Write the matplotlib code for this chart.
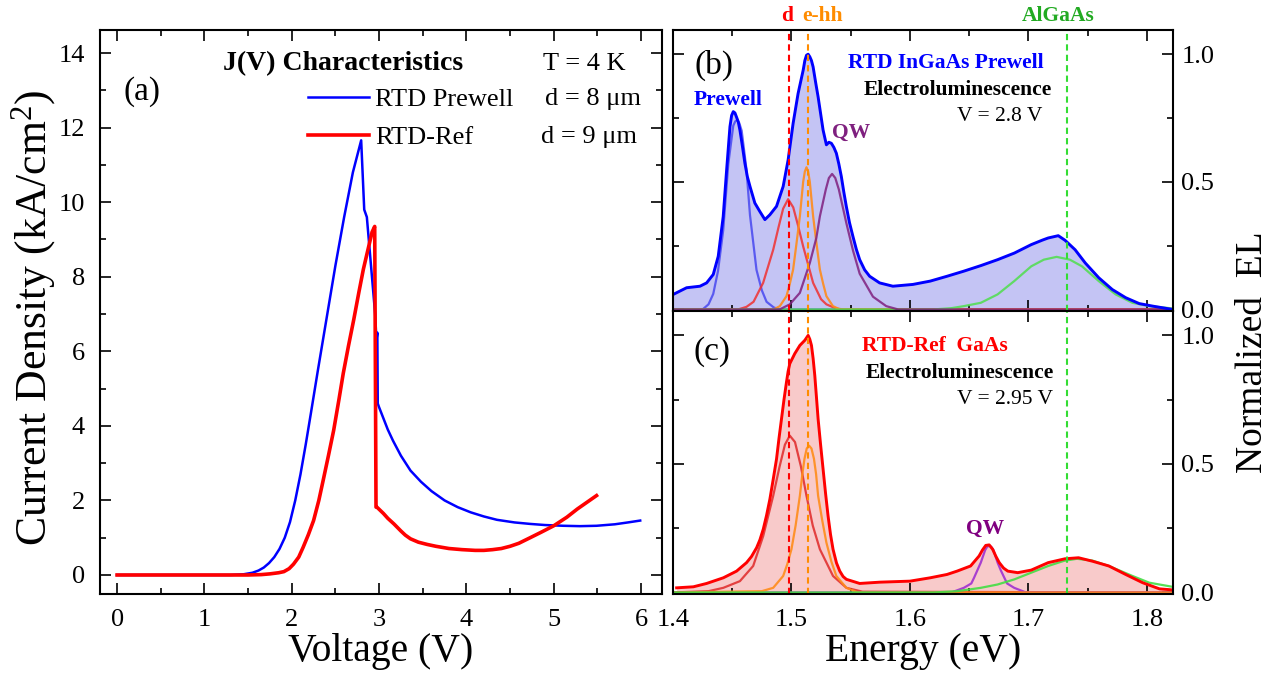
import matplotlib
matplotlib.use('Agg')
import matplotlib.pyplot as plt
from matplotlib.ticker import MultipleLocator

plt.rcParams['font.family'] = ['Liberation Serif', 'DejaVu Serif']
plt.rcParams['mathtext.fontset'] = 'custom'
plt.rcParams['mathtext.rm'] = 'Liberation Serif'

# (a) J(V) characteristics
v_prewell = [0, 0.5, 1.0, 1.30, 1.45, 1.55, 1.62, 1.68, 1.74, 1.80, 1.86, 1.92, 1.98, 2.04,
             2.10, 2.16, 2.22, 2.30, 2.40, 2.50, 2.60, 2.70, 2.795,
             2.83, 2.86, 2.955, 2.97, 2.98, 2.985, 3.0, 3.05, 3.1, 3.16, 3.25, 3.36, 3.48,
             3.6, 3.75, 3.9, 4.05, 4.2, 4.35, 4.55, 4.73, 4.9, 5.11, 5.3, 5.49, 5.7, 5.85,
             5.99]
j_prewell = [0, 0, 0, 0.0, 0.02, 0.06, 0.12, 0.2, 0.32, 0.48, 0.70, 1.0, 1.42, 2.0,
             2.7, 3.5, 4.35, 5.5, 6.9, 8.3, 9.6, 10.8, 11.66,
             9.8, 9.6, 7.0, 6.3, 6.5, 4.6, 4.5, 4.2, 3.9, 3.6, 3.2, 2.8, 2.5,
             2.25, 2.0, 1.82, 1.68, 1.57, 1.48, 1.41, 1.37, 1.34, 1.32, 1.31, 1.32, 1.36, 1.41,
             1.46]
v_ref = [0, 0.5, 1.0, 1.5, 1.65, 1.75, 1.85, 1.91, 1.97, 2.02, 2.08, 2.13, 2.19, 2.25, 2.31,
         2.36, 2.42, 2.48, 2.54, 2.59, 2.65, 2.71, 2.77, 2.82, 2.87, 2.92, 2.95,
         2.965, 2.975, 3.05, 3.1, 3.17, 3.25, 3.3, 3.36, 3.45, 3.55, 3.65, 3.8, 3.95, 4.1,
         4.2, 4.3, 4.4, 4.5, 4.6, 4.73, 4.85, 5.0, 5.15, 5.27, 5.38, 5.49]
j_ref = [0, 0, 0, 0, 0.01, 0.03, 0.06, 0.09, 0.17, 0.29, 0.48, 0.74, 1.08, 1.46, 2.0,
         2.54, 3.2, 3.88, 4.7, 5.41, 6.15, 6.85, 7.6, 8.2, 8.7, 9.2, 9.35,
         1.82, 1.82, 1.65, 1.52, 1.37, 1.18, 1.07, 0.97, 0.88, 0.82, 0.77, 0.71, 0.68, 0.66,
         0.66, 0.68, 0.71, 0.77, 0.85, 1.0, 1.14, 1.32, 1.55, 1.77, 1.95, 2.13]

# (b) RTD InGaAs prewell EL spectrum, V = 2.8 V
b_e = [1.4003, 1.4115, 1.4228, 1.4284, 1.434, 1.4382, 1.4424, 1.4453, 1.4481, 1.4495,
       1.4509, 1.4523, 1.4537, 1.4551, 1.4565, 1.4586, 1.4607, 1.4628, 1.465, 1.4691,
       1.4733, 1.4776, 1.4818, 1.4874, 1.493, 1.4972, 1.5014, 1.5056, 1.5099, 1.5113,
       1.5127, 1.5141, 1.5155, 1.5169, 1.5183, 1.5204, 1.5225, 1.5267, 1.5295, 1.5316,
       1.5337, 1.5358, 1.5379, 1.54, 1.5421, 1.5442, 1.5463, 1.549, 1.5519, 1.5548,
       1.5576, 1.5618, 1.566, 1.5744, 1.5856, 1.6025, 1.6171, 1.6313, 1.6455, 1.66,
       1.674, 1.6882, 1.7024, 1.712, 1.7167, 1.7252, 1.7309, 1.7394, 1.748, 1.7594,
       1.7708, 1.7821, 1.7935, 1.8049, 1.8216]
b_i = [0.059, 0.085, 0.091, 0.104, 0.137, 0.208, 0.364, 0.547, 0.716, 0.76,
       0.775, 0.77, 0.753, 0.735, 0.703, 0.64, 0.573, 0.52, 0.482, 0.417,
       0.384, 0.352, 0.371, 0.404, 0.482, 0.586, 0.729, 0.846, 0.9375, 0.975,
       0.996, 1.0, 0.990, 0.975, 0.950, 0.89, 0.833, 0.703, 0.645, 0.655,
       0.651, 0.635, 0.612, 0.57, 0.521, 0.46, 0.404, 0.34, 0.286, 0.235,
       0.195, 0.155, 0.130, 0.104, 0.091, 0.098, 0.111, 0.13, 0.150, 0.172,
       0.195, 0.221, 0.254, 0.272, 0.280, 0.289, 0.271, 0.234, 0.182, 0.124,
       0.078, 0.046, 0.023, 0.013, 0.0]

# fitted components of (b)
pw_e = [1.40, 1.425, 1.430, 1.434, 1.438, 1.4424, 1.4467, 1.4509, 1.4526, 1.4543, 1.456,
        1.458, 1.462, 1.465, 1.4705, 1.475, 1.479, 1.485, 1.490, 1.822]
pw_i = [0, 0, 0.02, 0.061, 0.15, 0.31, 0.57, 0.72, 0.737, 0.742, 0.73,
        0.70, 0.55, 0.37, 0.155, 0.075, 0.03, 0.008, 0, 0]
bd_e = [1.40, 1.455, 1.462, 1.468, 1.4761, 1.4846, 1.489, 1.493, 1.4972, 1.5015, 1.5055,
        1.5099, 1.5183, 1.525, 1.5295, 1.538, 1.545, 1.822]
bd_i = [0, 0, 0.01, 0.03, 0.104, 0.234, 0.32, 0.395, 0.432, 0.40, 0.33,
        0.247, 0.104, 0.04, 0.02, 0.003, 0, 0]
beh_e = [1.40, 1.485, 1.4902, 1.4958, 1.4986, 1.5014, 1.5043, 1.5071, 1.5099, 1.5113,
         1.5127, 1.5141, 1.5155, 1.5183, 1.5211, 1.524, 1.5268, 1.5295, 1.535, 1.541, 1.822]
beh_i = [0, 0, 0.013, 0.052, 0.10, 0.156, 0.26, 0.365, 0.50, 0.54,
         0.557, 0.54, 0.50, 0.365, 0.26, 0.156, 0.10, 0.052, 0.013, 0, 0]
bqw_e = [1.40, 1.49, 1.4986, 1.5071, 1.5155, 1.521, 1.524, 1.529, 1.5316, 1.5343, 1.537,
         1.540, 1.5463, 1.552, 1.5576, 1.5688, 1.58, 1.59, 1.822]
bqw_i = [0, 0, 0.02, 0.065, 0.182, 0.28, 0.365, 0.47, 0.515, 0.531, 0.515,
         0.47, 0.339, 0.23, 0.14, 0.05, 0.013, 0, 0]
balg_e = [1.40, 1.62, 1.635, 1.6455, 1.6598, 1.674, 1.688, 1.7024, 1.713, 1.7238, 1.735,
          1.7452, 1.7594, 1.7736, 1.7878, 1.802, 1.8216]
balg_i = [0, 0, 0.005, 0.013, 0.026, 0.059, 0.111, 0.169, 0.195, 0.206, 0.195,
          0.169, 0.111, 0.059, 0.026, 0.013, 0.004]

# (c) RTD-Ref GaAs EL spectrum, V = 2.95 V
c_e = [1.4031, 1.4172, 1.4284, 1.4425, 1.4537, 1.4621, 1.4663, 1.4706, 1.4734, 1.4762,
       1.479, 1.4818, 1.4846, 1.4874, 1.4895, 1.4916, 1.4937, 1.4958, 1.4972, 1.4986,
       1.5028, 1.5071, 1.5113, 1.5141, 1.5155, 1.5169, 1.5183, 1.5197, 1.5211, 1.5225,
       1.5246, 1.5267, 1.5288, 1.5309, 1.533, 1.5351, 1.538, 1.5408, 1.5436, 1.5464,
       1.5576, 1.5745, 1.6, 1.6171, 1.6313, 1.6398, 1.6512, 1.6584, 1.6612, 1.664,
       1.6669, 1.6698, 1.6726, 1.6754, 1.679, 1.6826, 1.691, 1.7024, 1.7167, 1.7309,
       1.7423, 1.7537, 1.7679, 1.7821, 1.7964, 1.8106, 1.8216]
c_i = [0.018, 0.022, 0.035, 0.057, 0.083, 0.116, 0.14, 0.174, 0.205, 0.246,
       0.3, 0.363, 0.44, 0.519, 0.6, 0.675, 0.75, 0.818, 0.86, 0.89,
       0.929, 0.961, 0.981, 1.0, 0.985, 0.961, 0.91, 0.844, 0.76, 0.675,
       0.575, 0.48, 0.385, 0.298, 0.225, 0.168, 0.115, 0.083, 0.062, 0.051,
       0.035, 0.04, 0.044, 0.057, 0.07, 0.083, 0.103, 0.142, 0.165, 0.183,
       0.185, 0.168, 0.14, 0.116, 0.095, 0.083, 0.077, 0.087, 0.116, 0.131,
       0.135, 0.122, 0.103, 0.07, 0.038, 0.014, 0.01]

# fitted components of (c)
cd_e = [1.40, 1.43, 1.4425, 1.4565, 1.4677, 1.4762, 1.4846, 1.490, 1.4945, 1.4986, 1.503,
        1.508, 1.5127, 1.518, 1.524, 1.5351, 1.5464, 1.56, 1.822]
cd_i = [0, 0.005, 0.018, 0.044, 0.103, 0.22, 0.376, 0.49, 0.575, 0.61, 0.585,
        0.49, 0.376, 0.26, 0.168, 0.064, 0.018, 0.003, 0]
ceh_e = [1.40, 1.475, 1.4846, 1.493, 1.4965, 1.500, 1.5035, 1.5071, 1.5092, 1.511, 1.5129,
         1.5149, 1.5169, 1.519, 1.5208, 1.5225, 1.526, 1.5295, 1.5337, 1.5379, 1.5464,
         1.556, 1.822]
ceh_i = [0, 0.005, 0.018, 0.064, 0.11, 0.168, 0.26, 0.376, 0.46, 0.52, 0.56,
         0.571, 0.56, 0.52, 0.46, 0.376, 0.28, 0.194, 0.12, 0.064, 0.018,
         0, 0]
cqw_e = [1.40, 1.635, 1.6455, 1.6518, 1.6541, 1.6568, 1.6598, 1.6635, 1.6652, 1.6669,
         1.6686, 1.6705, 1.674, 1.6768, 1.6797, 1.682, 1.688, 1.698, 1.822]
cqw_i = [0, 0, 0.018, 0.035, 0.057, 0.085, 0.116, 0.165, 0.178, 0.181,
         0.178, 0.165, 0.116, 0.085, 0.057, 0.035, 0.018, 0, 0]
calg_e = [1.40, 1.62, 1.64, 1.6598, 1.674, 1.6882, 1.7024, 1.7167, 1.73, 1.7409, 1.754,
          1.7679, 1.7879, 1.802, 1.8216]
calg_i = [0, 0, 0.005, 0.018, 0.031, 0.051, 0.077, 0.103, 0.123, 0.131, 0.124,
          0.103, 0.064, 0.038, 0.022]

# transition energies marked by dashed lines
e_d = 1.4981
e_ehh = 1.5141
e_algaas = 1.7324


def style(ax):
    ax.tick_params(which='both', direction='in', top=True, right=True, width=1.2,
                   labelsize=19)
    ax.tick_params(which='major', length=8)
    ax.tick_params(which='minor', length=4.5)
    for s in ax.spines.values():
        s.set_linewidth(1.5)


fig = plt.figure(figsize=(12.86, 6.75), dpi=100)
ax_a = fig.add_axes([0.0778, 0.12, 0.437, 0.8356])
ax_b = fig.add_axes([0.5233, 0.5393, 0.3888, 0.4163])
ax_c = fig.add_axes([0.5233, 0.12, 0.3888, 0.4193])

# ---- panel (a)
ax_a.plot(v_prewell, j_prewell, color='#0000ff', lw=1.8, label='RTD Prewell')
ax_a.plot(v_ref, j_ref, color='#ff0000', lw=2.6, label='RTD-Ref')
ax_a.set_xlim(-0.195, 6.24)
ax_a.set_ylim(-0.51, 14.62)
ax_a.xaxis.set_major_locator(MultipleLocator(1))
ax_a.xaxis.set_minor_locator(MultipleLocator(0.5))
ax_a.yaxis.set_major_locator(MultipleLocator(2))
ax_a.yaxis.set_minor_locator(MultipleLocator(1))
style(ax_a)
ax_a.tick_params(axis='x', pad=11)
ax_a.tick_params(axis='y', pad=11)
ax_a.set_xlabel('Voltage (V)', fontsize=28.5, labelpad=1)
ax_a.set_ylabel('Current Density (kA/cm$\\mathregular{^2}$)', fontsize=31.5)
ax_a.yaxis.set_label_coords(-0.074, 0.49)

ax_a.legend(loc='upper left', bbox_to_anchor=(0.370, 0.898), frameon=False, fontsize=19,
            borderpad=0, borderaxespad=0, handlelength=2.3, handletextpad=0.25,
            labelspacing=0.56)
ax_a.text(0.041, 0.890, '(a)', transform=ax_a.transAxes, fontsize=24, va='center')
ax_a.text(0.2195, 0.9397, 'J(V) Characteristics', transform=ax_a.transAxes,
          fontsize=20, fontweight='bold', va='center')
ax_a.text(0.788, 0.9397, 'T = 4 K', transform=ax_a.transAxes, fontsize=19, va='center')
ax_a.text(0.7918, 0.8777, 'd = 8 μm', transform=ax_a.transAxes, fontsize=19, va='center')
ax_a.text(0.7847, 0.8094, 'd = 9 μm', transform=ax_a.transAxes, fontsize=19, va='center')

# ---- panel (b)
ax_b.fill_between(b_e, 0, b_i, color='#c4c4f4', lw=0)
ax_b.plot(pw_e, pw_i, color='#4848f0', lw=1.6, alpha=0.85)
ax_b.plot(bd_e, bd_i, color='#f03030', lw=1.6, alpha=0.85)
ax_b.plot(beh_e, beh_i, color='#ff8c1a', lw=1.6, alpha=0.9)
ax_b.plot(balg_e, balg_i, color='#55dd55', lw=1.6, alpha=0.9)
ax_b.plot(bqw_e, bqw_i, color='#7f207f', lw=1.6, alpha=0.85)
ax_b.plot(b_e, b_i, color='#0000ff', lw=2.1)

# ---- panel (c)
ax_c.fill_between(c_e, 0, c_i, color='#f8caca', lw=0)
ax_c.plot(cd_e, cd_i, color='#e02828', lw=1.6, alpha=0.85)
ax_c.plot(cqw_e, cqw_i, color='#a030d0', lw=1.6, alpha=0.9)
ax_c.plot(ceh_e, ceh_i, color='#ff8c1a', lw=1.6, alpha=0.9)
ax_c.plot(calg_e, calg_i, color='#44dd44', lw=1.6, alpha=0.9)
ax_c.plot(c_e, c_i, color='#ff0000', lw=2.1)

for ax in (ax_b, ax_c):
    ax.axvline(e_d, color='#ff0000', ls=(0, (3, 2)), lw=1.5)
    ax.axvline(e_ehh, color='#ff8c00', ls=(0, (3, 2)), lw=1.5)
    ax.axvline(e_algaas, color='#33dd33', ls=(0, (3, 2)), lw=1.5)
    ax.set_xlim(1.4, 1.822)
    ax.set_ylim(-0.006, 1.095)
    ax.xaxis.set_major_locator(MultipleLocator(0.1))
    ax.xaxis.set_minor_locator(MultipleLocator(0.05))
    ax.yaxis.set_major_locator(MultipleLocator(0.5))
    ax.yaxis.set_minor_locator(MultipleLocator(0.25))
    style(ax)
    ax.tick_params(axis='y', labelleft=False, labelright=True, pad=6)
    ax.yaxis.set_major_formatter(plt.FormatStrFormatter('%.1f'))

ax_b.tick_params(axis='x', labelbottom=False)
ax_c.tick_params(axis='x', pad=11)
ax_c.set_xlabel('Energy (eV)', fontsize=28.5, labelpad=1)

xt = ax_b.get_xaxis_transform()
ax_b.text(1.4967, 1.05, 'd', transform=xt, color='#ff0000', fontsize=15.5,
          fontweight='bold', ha='center', va='center')
ax_b.text(1.509, 1.05, 'e-hh', transform=xt, color='#ff8c00', fontsize=15.5,
          fontweight='bold', ha='left', va='center')
ax_b.text(1.7255, 1.05, 'AlGaAs', transform=xt, color='#22aa22', fontsize=15.5,
          fontweight='bold', ha='center', va='center')

ax_b.text(0.0434, 0.8754, '(b)', transform=ax_b.transAxes, fontsize=24, va='center')
ax_b.text(0.0414, 0.7509, 'Prewell', transform=ax_b.transAxes, fontsize=15.5,
          fontweight='bold', color='#0000ff', va='center')
ax_b.text(0.3186, 0.6335, 'QW', transform=ax_b.transAxes, fontsize=15.5,
          fontweight='bold', color='#7f207f', va='center')
ax_b.text(0.742, 0.8836, 'RTD InGaAs Prewell', transform=ax_b.transAxes, fontsize=15.5,
          fontweight='bold', color='#0000ff', ha='right', va='center')
ax_b.text(0.758, 0.7865, 'Electroluminescence', transform=ax_b.transAxes, fontsize=15.5,
          fontweight='bold', ha='right', va='center')
ax_b.text(0.738, 0.6915, 'V = 2.8 V', transform=ax_b.transAxes, fontsize=15.5,
          ha='right', va='center')

ax_c.text(0.0416, 0.856, '(c)', transform=ax_c.transAxes, fontsize=24, va='center')
ax_c.text(0.378, 0.877, 'RTD-Ref  GaAs', transform=ax_c.transAxes, fontsize=15.5,
          fontweight='bold', color='#ff0000', va='center')
ax_c.text(0.761, 0.780, 'Electroluminescence', transform=ax_c.transAxes, fontsize=15.5,
          fontweight='bold', ha='right', va='center')
ax_c.text(0.761, 0.688, 'V = 2.95 V', transform=ax_c.transAxes, fontsize=15.5,
          ha='right', va='center')
ax_c.text(0.624, 0.2286, 'QW', transform=ax_c.transAxes, fontsize=15.5,
          fontweight='bold', color='#800080', ha='center', va='center')

fig.text(0.974, 0.478, 'Normalized  EL', rotation=90, fontsize=27, ha='center', va='center')

fig.savefig('out.png', dpi=100)
